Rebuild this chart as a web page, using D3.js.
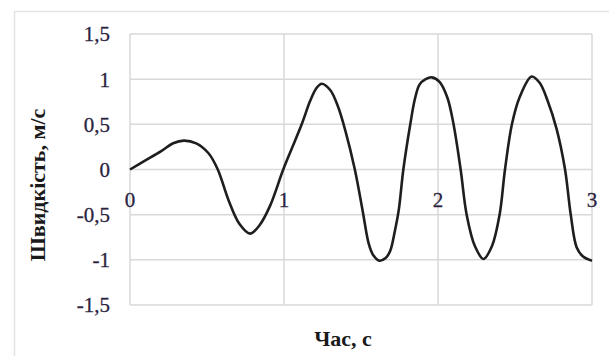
<!DOCTYPE html>
<html>
<head>
<meta charset="utf-8">
<script src="https://cdn.jsdelivr.net/npm/d3@7"></script>
<style>
    body { margin: 0; background: #fff; }
    svg { display: block; }
</style>
</head>
<body>
<script>
// time, s
const times = [0, 0.1, 0.2, 0.28, 0.35, 0.43, 0.51, 0.57, 0.64, 0.71, 0.78, 0.84, 0.91,
    0.995, 1.05, 1.115, 1.17, 1.21, 1.245, 1.3, 1.35, 1.4, 1.46, 1.51, 1.55, 1.58, 1.62,
    1.66, 1.69, 1.72, 1.745, 1.775, 1.82, 1.85, 1.88, 1.92, 1.96, 2.01, 2.06, 2.1, 2.147,
    2.186, 2.24, 2.295, 2.35, 2.4, 2.435, 2.48, 2.53, 2.608, 2.66, 2.71, 2.77, 2.825,
    2.862, 2.9, 2.94, 3];

// speed, m/s
const speeds = [0, 0.1, 0.2, 0.29, 0.32, 0.29, 0.18, 0, -0.34, -0.6, -0.71, -0.62, -0.4,
    0, 0.23, 0.5, 0.76, 0.9, 0.95, 0.88, 0.7, 0.42, 0, -0.45, -0.82, -0.95, -1.01,
    -0.98, -0.9, -0.68, -0.45, 0, 0.5, 0.78, 0.94, 1, 1.02, 0.97, 0.8, 0.51, 0,
    -0.5, -0.85, -0.99, -0.85, -0.5, 0, 0.5, 0.8, 1.03, 0.96, 0.77, 0.45, 0,
    -0.5, -0.86, -0.96, -1.01];

const xTicks = [0, 1, 2, 3],
    yTicks = [-1.5, -1, -0.5, 0, 0.5, 1, 1.5];

const width = 609,
    height = 356,
    plot = { left: 130, right: 592, top: 34, bottom: 305 },
    serif = '"Liberation Serif", "Times New Roman", serif',
    gridColor = '#d9d9d9';

const fmt = v => String(v).replace('.', ',');

const svg = d3.select('body').append('svg')
    .attr('width', width)
    .attr('height', height);

// chart frame, runs off the right and bottom edges
svg.append('rect')
    .attr('x', 14.5)
    .attr('y', 11.5)
    .attr('width', width)
    .attr('height', height)
    .attr('fill', 'none')
    .attr('stroke', '#e2e2e2')
    .attr('stroke-width', 1.5);

const x = d3.scaleLinear().domain([0, 3]).range([plot.left, plot.right]),
    y = d3.scaleLinear().domain([-1.5, 1.5]).range([plot.bottom, plot.top]);

const grid = svg.append('g').attr('stroke', gridColor).attr('stroke-width', 1.5);

grid.selectAll('.h')
    .data(yTicks)
    .join('line')
    .attr('x1', plot.left)
    .attr('x2', plot.right)
    .attr('y1', d => y(d))
    .attr('y2', d => y(d));

grid.selectAll('.v')
    .data(xTicks)
    .join('line')
    .attr('x1', d => x(d))
    .attr('x2', d => x(d))
    .attr('y1', plot.top)
    .attr('y2', plot.bottom);

// y tick labels
svg.append('g')
    .selectAll('text')
    .data(yTicks)
    .join('text')
    .attr('x', 110)
    .attr('y', d => y(d))
    .attr('dy', '0.35em')
    .attr('text-anchor', 'end')
    .attr('font-family', serif)
    .attr('font-size', 21)
    .attr('fill', '#2b2440')
    .attr('stroke', '#2b2440')
    .attr('stroke-width', 0.3)
    .text(fmt);

// x tick labels sit under the zero line
svg.append('g')
    .selectAll('text')
    .data(xTicks)
    .join('text')
    .attr('x', d => x(d))
    .attr('y', y(0) + 30)
    .attr('dy', '0.35em')
    .attr('text-anchor', 'middle')
    .attr('font-family', serif)
    .attr('font-size', 21)
    .attr('fill', '#2b2440')
    .attr('stroke', '#2b2440')
    .attr('stroke-width', 0.3)
    .text(d => d);

const line = d3.line()
    .x(d => x(d[0]))
    .y(d => y(d[1]))
    .curve(d3.curveCatmullRom.alpha(0.5));

svg.append('path')
    .datum(d3.zip(times, speeds))
    .attr('d', line)
    .attr('fill', 'none')
    .attr('stroke', '#1e1e1e')
    .attr('stroke-width', 2.6)
    .attr('stroke-linejoin', 'round');

// axis titles
svg.append('text')
    .attr('x', 343)
    .attr('y', 338)
    .attr('dy', '0.35em')
    .attr('text-anchor', 'middle')
    .attr('font-family', serif)
    .attr('font-weight', 'bold')
    .attr('font-size', 22)
    .attr('fill', '#1a1a1a')
    .text('Час, с');

svg.append('text')
    .attr('transform', 'translate(37,185) rotate(-90)')
    .attr('dy', '0.35em')
    .attr('text-anchor', 'middle')
    .attr('font-family', serif)
    .attr('font-weight', 'bold')
    .attr('font-size', 22)
    .attr('fill', '#1a1a1a')
    .text('Швидкість, м/с');
</script>
</body>
</html>
